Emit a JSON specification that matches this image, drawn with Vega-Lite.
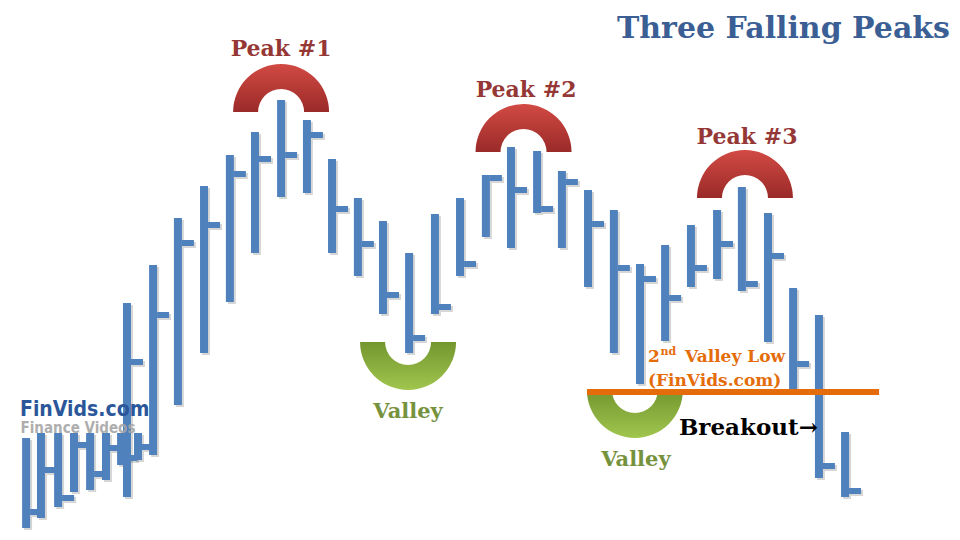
{
  "$schema": "https://vega.github.io/schema/vega-lite/v6.json",
  "width": 960,
  "height": 540,
  "autosize": {"type": "fit", "contains": "padding"},
  "padding": 0,
  "background": "white",
  "config": {"view": {"stroke": null}},
  "datasets": {
    "bars": [
      {"t": 1.02, "high": 10.2, "low": 1.2, "close": 2.8},
      {"t": 1.6, "high": 10.7, "low": 2.2, "close": 7.0},
      {"t": 2.27, "high": 10.7, "low": 3.3, "close": 4.2},
      {"t": 2.89, "high": 10.7, "low": 4.8, "close": 9.5},
      {"t": 3.52, "high": 10.7, "low": 5.0, "close": 6.6},
      {"t": 4.14, "high": 10.7, "low": 6.0, "close": 9.2},
      {"t": 4.73, "high": 10.7, "low": 7.5, "close": 8.2},
      {"t": 5.39, "high": 10.7, "low": 8.0, "close": 9.3},
      {"t": 4.96, "high": 23.7, "low": 4.3, "close": 17.8},
      {"t": 5.98, "high": 27.5, "low": 8.5, "close": 22.5},
      {"t": 6.95, "high": 32.2, "low": 13.5, "close": 29.7},
      {"t": 7.97, "high": 35.4, "low": 18.7, "close": 31.5},
      {"t": 8.98, "high": 38.5, "low": 23.8, "close": 36.6},
      {"t": 9.96, "high": 40.8, "low": 28.7, "close": 38.1},
      {"t": 10.98, "high": 44.0, "low": 34.3, "close": 38.5},
      {"t": 11.99, "high": 42.0, "low": 34.7, "close": 40.5},
      {"t": 12.97, "high": 38.1, "low": 28.7, "close": 33.1},
      {"t": 13.98, "high": 34.2, "low": 26.4, "close": 29.6},
      {"t": 14.96, "high": 31.9, "low": 22.6, "close": 24.5},
      {"t": 15.98, "high": 28.7, "low": 18.7, "close": 20.2},
      {"t": 16.99, "high": 32.6, "low": 22.6, "close": 23.3},
      {"t": 17.97, "high": 34.2, "low": 26.4, "close": 27.6},
      {"t": 18.98, "high": 36.5, "low": 30.3, "close": 36.2},
      {"t": 19.96, "high": 39.3, "low": 29.2, "close": 35.0},
      {"t": 20.98, "high": 38.9, "low": 32.7, "close": 33.1},
      {"t": 21.95, "high": 36.9, "low": 29.2, "close": 35.8},
      {"t": 22.97, "high": 35.0, "low": 25.3, "close": 31.6},
      {"t": 23.98, "high": 33.0, "low": 18.7, "close": 27.2},
      {"t": 25.0, "high": 27.6, "low": 15.6, "close": 26.1},
      {"t": 25.98, "high": 29.5, "low": 19.9, "close": 24.2},
      {"t": 26.99, "high": 31.5, "low": 25.3, "close": 27.2},
      {"t": 28.01, "high": 33.0, "low": 26.1, "close": 29.6},
      {"t": 28.98, "high": 35.3, "low": 24.9, "close": 25.6},
      {"t": 30.0, "high": 32.7, "low": 19.8, "close": 28.4},
      {"t": 30.98, "high": 25.2, "low": 14.7, "close": 17.6},
      {"t": 31.99, "high": 22.5, "low": 6.2, "close": 7.4},
      {"t": 33.01, "high": 10.8, "low": 4.3, "close": 4.9}
    ],
    "peaks": [
      {"t": 10.98, "p": 42.8},
      {"t": 20.45, "p": 38.8},
      {"t": 29.1, "p": 34.2}
    ],
    "valleys": [
      {"t": 15.94, "p": 19.8},
      {"t": 24.8, "p": 15.0}
    ],
    "support": [
      {"t1": 22.93, "t2": 34.34, "p": 14.8}
    ],
    "peakLabels": [
      {"t": 10.98, "p": 48.4, "label": "Peak #1"},
      {"t": 20.55, "p": 44.3, "label": "Peak #2"},
      {"t": 29.18, "p": 39.6, "label": "Peak #3"}
    ],
    "valleyLabels": [
      {"t": 15.94, "p": 12.2, "label": "Valley"},
      {"t": 24.84, "p": 7.4, "label": "Valley"}
    ],
    "orangeLabels": [
      {"t": 25.31, "p": 17.8, "label": "2"},
      {"t": 26.76, "p": 17.8, "label": "Valley Low"},
      {"t": 25.31, "p": 15.4, "label": "(FinVids.com)"}
    ],
    "superscript": [
      {"t": 25.8, "p": 18.5, "label": "nd"}
    ],
    "breakout": [
      {"t": 26.52, "p": 10.5, "label": "Breakout→"}
    ],
    "title": [
      {"t": 37.11, "p": 50.2, "label": "Three Falling Peaks"}
    ],
    "brand": [
      {"t": 0.78, "p": 12.4, "label": "FinVids.com"}
    ],
    "brandSub": [
      {"t": 0.8, "p": 10.75, "label": "Finance Videos"}
    ]
  },
  "resolve": {"scale": {"x": "shared", "y": "shared"}},
  "layer": [
    {
      "data": {"name": "peaks"},
      "mark": {"type": "arc", "radius": 48, "radius2": 23, "theta": -1.5708, "theta2": 1.5708,
        "color": {"gradient": "linear", "x1": 0, "y1": 0, "x2": 0, "y2": 1,
          "stops": [{"offset": 0, "color": "#d24a44"}, {"offset": 1, "color": "#9a2a28"}]}},
      "encoding": {
        "x": {"field": "t", "type": "quantitative", "scale": {"domain": [0, 37.5], "nice": false, "zero": false}, "axis": null},
        "y": {"field": "p", "type": "quantitative", "scale": {"domain": [0, 54], "nice": false, "zero": false}, "axis": null}
      }
    },
    {
      "data": {"name": "valleys"},
      "mark": {"type": "arc", "radius": 48, "radius2": 23, "theta": 1.5708, "theta2": 4.7124,
        "color": {"gradient": "linear", "x1": 0, "y1": 0, "x2": 0, "y2": 1,
          "stops": [{"offset": 0, "color": "#74962f"}, {"offset": 1, "color": "#a0c64e"}]}},
      "encoding": {
        "x": {"field": "t", "type": "quantitative"},
        "y": {"field": "p", "type": "quantitative"}
      }
    },
    {
      "data": {"name": "bars"},
      "mark": {"type": "rule", "strokeWidth": 8, "color": "#000000", "opacity": 0.16, "xOffset": 2, "yOffset": 2, "y2Offset": 2},
      "encoding": {
        "x": {"field": "t", "type": "quantitative"},
        "y": {"field": "high", "type": "quantitative"},
        "y2": {"field": "low"}
      }
    },
    {
      "data": {"name": "bars"},
      "mark": {"type": "tick", "orient": "horizontal", "size": 12, "thickness": 6, "color": "#000000", "opacity": 0.16, "xOffset": 12, "yOffset": 2},
      "encoding": {
        "x": {"field": "t", "type": "quantitative"},
        "y": {"field": "close", "type": "quantitative"}
      }
    },
    {
      "data": {"name": "bars"},
      "mark": {"type": "rule", "strokeWidth": 8, "color": "#4f81bd"},
      "encoding": {
        "x": {"field": "t", "type": "quantitative"},
        "y": {"field": "high", "type": "quantitative"},
        "y2": {"field": "low"}
      }
    },
    {
      "data": {"name": "bars"},
      "mark": {"type": "tick", "orient": "horizontal", "size": 12, "thickness": 6, "color": "#4f81bd", "opacity": 1, "xOffset": 10},
      "encoding": {
        "x": {"field": "t", "type": "quantitative"},
        "y": {"field": "close", "type": "quantitative"}
      }
    },
    {
      "data": {"name": "support"},
      "mark": {"type": "rule", "strokeWidth": 6, "color": "#e46c0a"},
      "encoding": {
        "x": {"field": "t1", "type": "quantitative"},
        "x2": {"field": "t2"},
        "y": {"field": "p", "type": "quantitative"}
      }
    },
    {
      "data": {"name": "peakLabels"},
      "mark": {"type": "text", "font": "DejaVu Serif", "fontWeight": "bold", "fontSize": 22, "color": "#953735", "align": "center", "baseline": "alphabetic"},
      "encoding": {
        "x": {"field": "t", "type": "quantitative"},
        "y": {"field": "p", "type": "quantitative"},
        "text": {"field": "label"}
      }
    },
    {
      "data": {"name": "valleyLabels"},
      "mark": {"type": "text", "font": "DejaVu Serif", "fontWeight": "bold", "fontSize": 21, "color": "#76923c", "align": "center", "baseline": "alphabetic"},
      "encoding": {
        "x": {"field": "t", "type": "quantitative"},
        "y": {"field": "p", "type": "quantitative"},
        "text": {"field": "label"}
      }
    },
    {
      "data": {"name": "orangeLabels"},
      "mark": {"type": "text", "font": "DejaVu Serif", "fontWeight": "bold", "fontSize": 17, "color": "#e46c0a", "align": "left", "baseline": "alphabetic"},
      "encoding": {
        "x": {"field": "t", "type": "quantitative"},
        "y": {"field": "p", "type": "quantitative"},
        "text": {"field": "label"}
      }
    },
    {
      "data": {"name": "superscript"},
      "mark": {"type": "text", "font": "DejaVu Serif", "fontWeight": "bold", "fontSize": 11, "color": "#e46c0a", "align": "left", "baseline": "alphabetic"},
      "encoding": {
        "x": {"field": "t", "type": "quantitative"},
        "y": {"field": "p", "type": "quantitative"},
        "text": {"field": "label"}
      }
    },
    {
      "data": {"name": "breakout"},
      "mark": {"type": "text", "font": "DejaVu Serif", "fontWeight": "bold", "fontSize": 23, "color": "#000000", "align": "left", "baseline": "alphabetic"},
      "encoding": {
        "x": {"field": "t", "type": "quantitative"},
        "y": {"field": "p", "type": "quantitative"},
        "text": {"field": "label"}
      }
    },
    {
      "data": {"name": "title"},
      "mark": {"type": "text", "font": "DejaVu Serif", "fontWeight": "bold", "fontSize": 30, "color": "#3b5f94", "align": "right", "baseline": "alphabetic"},
      "encoding": {
        "x": {"field": "t", "type": "quantitative"},
        "y": {"field": "p", "type": "quantitative"},
        "text": {"field": "label"}
      }
    },
    {
      "data": {"name": "brand"},
      "mark": {"type": "text", "font": "DejaVu Sans Condensed, DejaVu Sans", "fontWeight": "bold", "fontSize": 21, "color": "#2b579a", "align": "left", "baseline": "alphabetic"},
      "encoding": {
        "x": {"field": "t", "type": "quantitative"},
        "y": {"field": "p", "type": "quantitative"},
        "text": {"field": "label"}
      }
    },
    {
      "data": {"name": "brandSub"},
      "mark": {"type": "text", "font": "DejaVu Sans Condensed, DejaVu Sans", "fontWeight": "bold", "fontSize": 15, "color": "#a6a6a6", "opacity": 0.9, "align": "left", "baseline": "alphabetic"},
      "encoding": {
        "x": {"field": "t", "type": "quantitative"},
        "y": {"field": "p", "type": "quantitative"},
        "text": {"field": "label"}
      }
    }
  ]
}
